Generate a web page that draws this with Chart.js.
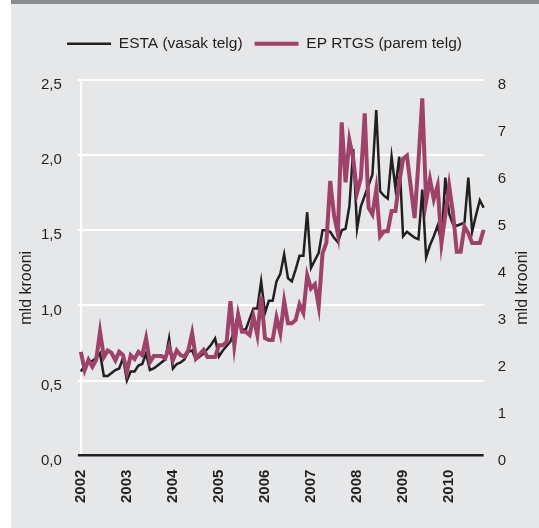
<!DOCTYPE html>
<html>
<head>
<meta charset="utf-8">
<script src="https://cdn.jsdelivr.net/npm/chart.js@4"></script>
<style>
  html, body { margin: 0; padding: 0; background: #ffffff; }
  #panel { position: absolute; left: 11px; top: 0; width: 528px; height: 524px;
           background: #e6e7e9; border-top: 4px solid #8b8c8e; }
  canvas { display: block; }
</style>
</head>
<body>
<div id="panel"><canvas id="myChart" width="528" height="524"></canvas></div>
<script>
// monthly data, Jan 2002 .. Oct 2010
const years = [2002, 2003, 2004, 2005, 2006, 2007, 2008, 2009, 2010];
const monthsInLastYear = 10;

// ESTA, left axis (mld krooni)
const esta = [
  0.56, 0.60, 0.62, 0.63, 0.65, 0.68, 0.53, 0.53, 0.55, 0.57, 0.58, 0.65,
  0.50, 0.56, 0.56, 0.60, 0.61, 0.68, 0.57, 0.58, 0.60, 0.62, 0.64, 0.78,
  0.58, 0.61, 0.62, 0.64, 0.69, 0.70, 0.64, 0.66, 0.68, 0.71, 0.74, 0.78,
  0.66, 0.70, 0.73, 0.76, 0.83, 0.95, 0.84, 0.84, 0.91, 0.98, 0.98, 1.16,
  0.95, 1.03, 1.03, 1.16, 1.21, 1.34, 1.18, 1.16, 1.24, 1.33, 1.33, 1.62,
  1.25, 1.30, 1.35, 1.50, 1.50, 1.49, 1.45, 1.42, 1.50, 1.51, 1.66, 2.04,
  1.51, 1.66, 1.73, 1.80, 1.87, 2.30, 1.76, 1.73, 1.71, 1.99, 1.78, 1.99,
  1.46, 1.49, 1.47, 1.45, 1.44, 1.77, 1.32, 1.40, 1.46, 1.53, 1.42, 1.85,
  1.61, 1.54, 1.53, 1.54, 1.55, 1.85, 1.49, 1.60, 1.70, 1.65
];

// EP RTGS, right axis (mld krooni)
const rtgs = [
  2.21, 1.82, 2.04, 1.89, 2.04, 2.64, 2.10, 2.24, 2.19, 2.03, 2.21, 2.14,
  1.78, 2.14, 2.06, 2.21, 2.14, 2.50, 1.99, 2.12, 2.12, 2.12, 2.07, 2.32,
  2.03, 2.24, 2.14, 2.11, 2.24, 2.61, 2.07, 2.16, 2.25, 2.10, 2.10, 2.10,
  2.35, 2.35, 2.42, 3.29, 2.35, 3.00, 2.64, 2.64, 2.57, 2.96, 2.57, 3.39,
  2.50, 2.46, 2.46, 2.94, 2.61, 3.29, 2.82, 2.82, 2.89, 3.22, 3.04, 3.84,
  3.56, 3.65, 3.18, 4.31, 4.53, 5.85, 5.12, 4.72, 7.10, 5.82, 6.72, 6.32,
  5.60, 5.92, 7.29, 5.28, 5.14, 5.67, 4.67, 4.78, 4.78, 5.21, 5.21, 5.82,
  6.32, 6.39, 5.72, 5.06, 6.25, 7.61, 5.42, 5.89, 5.46, 5.75, 4.53, 5.12,
  5.75, 5.17, 4.34, 4.34, 4.88, 4.74, 4.53, 4.53, 4.53, 4.81
];

const seriesNames = ['ESTA (vasak telg)', 'EP RTGS (parem telg)'];
const yTitle = 'mld krooni';

const labels = [];
years.forEach(y => {
  const n = y === years[years.length - 1] ? monthsInLastYear : 12;
  for (let m = 1; m <= n; m++) labels.push(y + '-' + String(m).padStart(2, '0'));
});
const isYearStart = i => labels[i] && labels[i].endsWith('-01');

const ink = '#231f20';
const font = '"Liberation Sans", Arial, Helvetica, sans-serif';
Chart.defaults.font.family = font;
Chart.defaults.color = ink;

// more room under the legend, and legend a bit left of centre
const legendGap = {
  id: 'legendGap',
  beforeUpdate(chart) {
    const lg = chart.legend;
    if (lg && !lg._gapPatched) {
      const fit = lg.fit;
      lg.fit = function () { fit.call(this); this.height = 56; };
      lg._gapPatched = true;
    }
  },
  afterLayout(chart) {
    chart.legend.left -= 8;
    chart.legend.right -= 8;
  }
};

const axisTitles = {
  id: 'axisTitles',
  afterDraw(chart) {
    const { ctx, chartArea } = chart;
    const cy = (chartArea.top + chartArea.bottom) / 2 + 20;
    ctx.save();
    ctx.font = '16px ' + font;
    ctx.fillStyle = ink;
    ctx.textAlign = 'center';
    ctx.textBaseline = 'middle';
    [chartArea.left - 54, chartArea.right + 39].forEach(x => {
      ctx.save();
      ctx.translate(x, cy);
      ctx.rotate(-Math.PI / 2);
      ctx.fillText(yTitle, 0, 0);
      ctx.restore();
    });
    ctx.restore();
  }
};

const ctx = document.getElementById('myChart');
new Chart(ctx, {
  type: 'line',
  data: {
    labels: labels,
    datasets: [{
      label: seriesNames[0],
      data: esta,
      yAxisID: 'y',
      borderColor: ink,
      backgroundColor: ink,
      borderWidth: 2.5,
      pointRadius: 0,
      tension: 0,
      order: 2
    }, {
      label: seriesNames[1],
      data: rtgs,
      yAxisID: 'y1',
      borderColor: '#9e426a',
      backgroundColor: '#9e426a',
      borderWidth: 4,
      pointRadius: 0,
      tension: 0,
      order: 1
    }]
  },
  options: {
    responsive: false,
    animation: false,
    layout: { padding: { top: 20, left: 14, right: 19, bottom: 11 } },
    scales: {
      x: {
        grid: {
          color: c => isYearStart(c.index) ? '#ffffff' : 'rgba(0,0,0,0)',
          lineWidth: 2,
          drawTicks: false
        },
        border: { display: false },
        ticks: {
          autoSkip: false,
          minRotation: 90,
          maxRotation: 90,
          padding: 14,
          color: ink,
          font: { size: 15, weight: 'bold' },
          callback: (v, i) => isYearStart(i) ? labels[i].slice(0, 4) : null
        }
      },
      y: {
        position: 'left',
        min: 0,
        max: 2.5,
        grid: {
          color: c => c.tick && c.tick.value === 0 ? ink : '#ffffff',
          lineWidth: c => c.tick && c.tick.value === 0 ? 2.5 : 2,
          tickLength: 3
        },
        border: { display: false },
        ticks: {
          stepSize: 0.5,
          padding: 16,
          labelOffset: 5,
          color: ink,
          font: { size: 15 },
          callback: v => v.toFixed(1).replace('.', ',')
        }
      },
      y1: {
        position: 'right',
        min: 0,
        max: 8,
        grid: { display: false, drawTicks: false },
        border: { display: false },
        ticks: {
          stepSize: 1,
          padding: 14,
          labelOffset: 5,
          color: ink,
          font: { size: 15 }
        }
      }
    },
    plugins: {
      legend: {
        position: 'top',
        labels: {
          usePointStyle: true,
          pointStyle: 'line',
          pointStyleWidth: 44,
          padding: 12,
          color: ink,
          font: { size: 15.5 },
          sort: (a, b) => a.datasetIndex - b.datasetIndex
        }
      },
      tooltip: { enabled: false }
    }
  },
  plugins: [legendGap, axisTitles]
});
</script>
</body>
</html>
